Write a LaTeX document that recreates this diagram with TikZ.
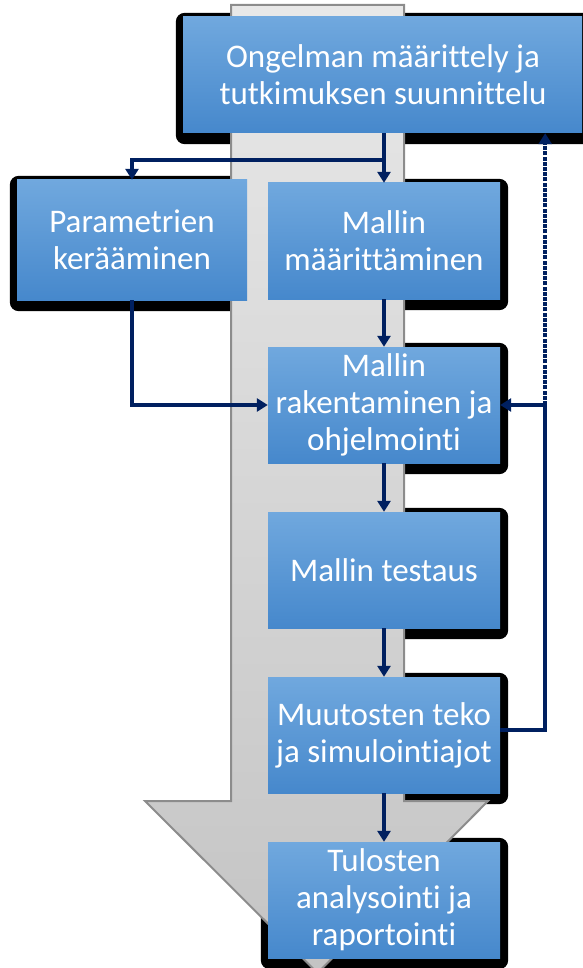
\documentclass[tikz,border=0pt]{standalone}
\usepackage{fontspec}
\setmainfont{Carlito}[Ligatures=NoCommon]
\usetikzlibrary{arrows.meta,calc}
\definecolor{navy}{RGB}{0,32,96}
\definecolor{boxtop}{RGB}{112,168,222}
\definecolor{boxbot}{RGB}{70,136,204}
\definecolor{shafttop}{RGB}{232,232,232}
\definecolor{shaftbot}{RGB}{196,196,196}
\definecolor{shaftline}{RGB}{140,140,140}
\pgfdeclarelayer{shad}
\pgfdeclarelayer{bigarrow}
\pgfsetlayers{shad,bigarrow,main}
\begin{document}
\begin{tikzpicture}[x=1pt,y=-1pt,
  stepbox/.style={minimum width=232pt,minimum height=116pt,inner sep=0pt,
    align=center,text=white,font=\fontsize{33}{37}\selectfont,
    top color=boxtop,bottom color=boxbot},
  conn/.style={draw=navy,line width=4pt,-{Triangle[width=13pt,length=11pt]}},
  dotconn/.style={conn,dash pattern=on 4pt off 1.2pt},
  shadowbox/.style={fill=black,rounded corners=9pt}]
\clip (0,0) rectangle (582,968);

% boxes
\node[stepbox,minimum width=400pt] (b1) at (383,75) {Ongelman määrittely ja\\tutkimuksen suunnittelu};
\node[stepbox,minimum width=230pt,minimum height=120pt] (b2) at (132,240) {Parametrien\\kerääminen};
\node[stepbox] (b3) at (384,241) {Mallin\\määrittäminen};
\node[stepbox] (b4) at (384,405) {Mallin\\rakentaminen ja\\ohjelmointi};
\node[stepbox] (b5) at (384,570) {Mallin testaus};
\node[stepbox] (b6) at (384,735) {Muutosten teko\\ja simulointiajot};
\node[stepbox] (b7) at (384,900) {Tulosten\\analysointi ja\\raportointi};

% shadows
\begin{pgfonlayer}{shad}
  \foreach \b in {b1,b2,b3,b4,b5,b6,b7}
    \fill[shadowbox] ($(\b.north west)+(-7,-4)$) rectangle ($(\b.south east)+(8,11)$);
\end{pgfonlayer}

% big grey arrow
\begin{pgfonlayer}{bigarrow}
  \draw[shaftline,line width=2pt,top color=shafttop,bottom color=shaftbot,line join=miter]
    (231,5) -- (404,5) -- (404,801) -- (488,801) -- (317.5,973) -- (145,801) -- (231,801) -- cycle;
\end{pgfonlayer}

% connectors
\coordinate (split) at ($(b3.north)+(0,-23)$);
\coordinate (fb) at ($(b4.east)+(45,0)$);
\draw[conn] (b1.south -| b3.north) -- (b3.north);
\draw[conn] (split) -| (b2.north);
\draw[conn] (b3.south) -- (b4.north);
\draw[conn] (b4.south) -- (b5.north);
\draw[conn] (b5.south) -- (b6.north);
\draw[conn] (b6.south) -- (b7.north);
\draw[conn] (b2.south) |- (b4.west);
\draw[conn] ([yshift=5pt]b6.east) -| (fb) -- (b4.east);
\draw[dotconn] (fb) -- (fb |- b1.south);
\end{tikzpicture}
\end{document}
